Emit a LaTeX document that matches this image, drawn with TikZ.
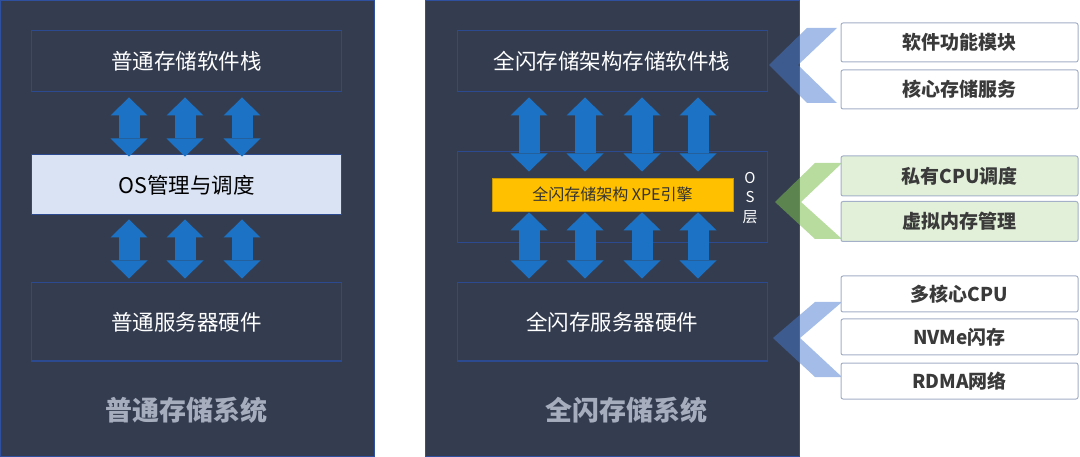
\documentclass[tikz,border=0pt]{standalone}
\usepackage{fontspec}
\setmainfont{Noto Sans CJK SC}
\usetikzlibrary{arrows.meta,positioning}
\definecolor{panelbg}{HTML}{343D50}
\definecolor{panelrim}{HTML}{2F4F9F}
\definecolor{boxrim}{HTML}{2B4A90}
\definecolor{oslight}{HTML}{DAE3F3}
\definecolor{xpeyellow}{HTML}{FFC000}
\definecolor{arrblue}{HTML}{1C73C6}
\definecolor{titlegray}{HTML}{A6AEBE}
\definecolor{siderim}{HTML}{A3B0C8}
\definecolor{sidetext}{HTML}{3A3A3A}
\definecolor{sidegreen}{HTML}{E2F0D9}
\definecolor{chevblue}{HTML}{4979D1}
\definecolor{chevgreen}{HTML}{7CC04E}
\tikzset{
  layer/.style={draw=boxrim,line width=1pt,minimum width=310pt,text=white,font=\fontsize{21.5}{24}\selectfont},
  systitle/.style={text=titlegray,font=\fontsize{27}{30}\bfseries\selectfont},
  sidebox/.style={draw=siderim,line width=1pt,fill=white,rounded corners=2pt,minimum width=237pt,text=sidetext,font=\fontsize{19}{22}\bfseries\selectfont},
  bigarrow/.style={arrblue,line width=21pt,{Triangle[width=37pt,length=18pt,line width=0pt]}-{Triangle[width=37pt,length=18pt,line width=0pt]}},
}
\begin{document}
\begin{tikzpicture}[x=1pt,y=-1pt]
      \useasboundingbox (0,0) rectangle (1080,457);
      % two panels
      \draw[panelrim,line width=1pt,fill=panelbg] (0.5,0.5) rectangle (374,456);
      \draw[panelrim,line width=1pt,fill=panelbg] (425,0.5) rectangle (799,456);

      % plain storage system
      \node[layer,minimum height=61pt] (stackL) at (186.5,61.5) {普通存储软件栈};
      \node[layer,minimum height=60pt,fill=oslight,text=black] (osL) at (186.5,185) {OS管理与调度};
      \node[layer,minimum height=78pt] (hwL) at (186.5,322) {普通服务器硬件};
      \node[systitle] (titleL) at (186,410) {普通存储系统};

      % all-flash storage system
      \node[layer,minimum height=61pt] (stackR) at (612,61.5) {全闪存储架构存储软件栈};
      \node[layer,minimum height=91pt] (osR) at (612,197.5) {};
      \node[fill=xpeyellow,draw=xpeyellow!80!black,line width=0.6pt,minimum width=241pt,minimum height=33pt,text=black!80,font=\fontsize{16}{18}\selectfont] (xpe) at (612.5,194.5) {全闪存储架构 XPE引擎};
      \node[text=white,align=center,font=\fontsize{15}{19.5}\selectfont] (oslabel) at (750,198) {O\\S\\层};
      \node[layer,minimum height=78pt] (hwR) at (612,322) {全闪存服务器硬件};
      \node[systitle] (titleR) at (626,410) {全闪存储系统};

      % columns of the arrows
      \foreach \name/\x in {l1/129,l2/185,l3/242,r1/529,r2/585,r3/642,r4/698}
        \coordinate (\name) at (\x,0);
      \foreach \c in {l1,l2,l3} {
        \draw[bigarrow] ([yshift=-5pt]stackL.south -| \c) -- ([yshift=-2pt]osL.north -| \c);
        \draw[bigarrow] ([yshift=-4pt]osL.south -| \c) -- ([yshift=4pt]hwL.north -| \c);
      }
      \foreach \c in {r1,r2,r3,r4} {
        \draw[bigarrow] ([yshift=-5pt]stackR.south -| \c) -- ([yshift=-20pt]osR.north -| \c);
        \draw[bigarrow] ([yshift=-1pt]xpe.south -| \c) -- ([yshift=4pt]hwR.north -| \c);
      }

      % chevrons
      \fill[chevblue,opacity=0.5] (837,28) -- (807,28) -- (769,65) -- (807,103) -- (837,103) -- (798,65) -- cycle;
      \fill[chevgreen,opacity=0.55] (842,163) -- (815,163) -- (775,202) -- (815,239) -- (842,239) -- (801,202) -- cycle;
      \fill[chevblue,opacity=0.5] (842,302) -- (815,302) -- (773,338) -- (815,377) -- (842,377) -- (800,338) -- cycle;

      % feature boxes
      \node[sidebox,minimum height=39pt] (soft) at (959.5,42.5) {软件功能模块};
      \node[sidebox,minimum height=39pt] (core) at (959.5,89.5) {核心存储服务};
      \node[sidebox,minimum height=40pt,fill=sidegreen] (cpu) at (959.5,176) {私有CPU调度};
      \node[sidebox,minimum height=40pt,fill=sidegreen] (vmem) at (959.5,221.5) {虚拟内存管理};
      \node[sidebox,minimum height=36pt] (mcore) at (959.5,294) {多核心CPU};
      \node[sidebox,minimum height=36pt] (nvme) at (959.5,337) {NVMe闪存};
      \node[sidebox,minimum height=36pt] (rdma) at (959.5,381) {RDMA网络};
\end{tikzpicture}
\end{document}
